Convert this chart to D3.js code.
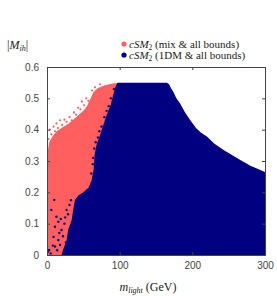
<!DOCTYPE html>
<meta charset="utf-8">
<script src="https://d3js.org/d3.v7.min.js"></script>
<style>
    body { margin: 0; background: #fff; }
    .tick text { font-family: "Liberation Sans", Arial, sans-serif; font-size: 10px; fill: #444; }
    .serif { font-family: "Liberation Serif", "DejaVu Serif", serif; fill: #222; }
</style>
<div id="chart"></div>
<script>
    // tick values
    var xTicks = [0, 100, 200, 300];
    var yTicks = [0, 0.1, 0.2, 0.3, 0.4, 0.5, 0.6];

    // upper edge of the "mix" (red) cloud: [m_light, |M_ih|]
    var redTop = [[0, 0.27], [1, 0.33], [3, 0.36], [8, 0.38], [13, 0.394], [20, 0.405], [30, 0.42],
        [40, 0.44], [50, 0.46], [55, 0.475], [60, 0.5], [64, 0.52], [70, 0.533], [80, 0.542],
        [90, 0.547], [100, 0.55]];

    // left edge of the "1DM" (blue) cloud: [|M_ih|, m_light]
    var blueLeft = [[0, 20], [0.016, 22], [0.048, 27], [0.08, 29], [0.112, 34], [0.144, 36],
        [0.176, 38.5], [0.19, 43], [0.2, 50], [0.215, 57], [0.235, 61], [0.27, 64], [0.3, 65],
        [0.32, 65.5], [0.35, 68], [0.383, 73], [0.415, 77.5], [0.447, 82], [0.479, 87.6],
        [0.51, 91], [0.535, 94], [0.55, 97]];

    // upper edge of the blue cloud: [m_light, |M_ih|]
    var blueTop = [[97, 0.55], [165, 0.55], [168, 0.545], [170, 0.535], [174, 0.52], [178, 0.5],
        [183, 0.484], [190, 0.455], [197, 0.431], [205, 0.405], [212, 0.39], [220, 0.378],
        [230, 0.356], [243, 0.335], [255, 0.318], [266, 0.303], [280, 0.285], [300, 0.265]];

    // loose points outside the dense clouds
    var redStray = [[2, 0.37], [4, 0.40], [6, 0.385], [9, 0.41], [11, 0.395], [13, 0.42], [15, 0.405],
        [18, 0.43], [21, 0.415], [24, 0.432], [27, 0.425], [31, 0.44], [34, 0.43], [37, 0.455],
        [40, 0.448], [43, 0.47], [46, 0.465], [48, 0.49], [51, 0.478], [54, 0.5], [57, 0.492],
        [62, 0.525], [66, 0.535], [73, 0.545]];
    var blueStray = [[1, 0.01], [3, 0.016], [5, 0.005], [6, 0.144], [10, 0.176], [13, 0.122],
        [15.6, 0.106], [11, 0.09], [9, 0.058], [15.6, 0.048], [18, 0.032], [11, 0.027], [20, 0.08],
        [27, 0.144], [29, 0.13], [24, 0.1], [22, 0.06], [17, 0.07], [25, 0.12], [31, 0.16],
        [33, 0.175], [14, 0.015], [8, 0.03], [19, 0.115], [26, 0.04], [61, 0.26], [63, 0.29],
        [63.5, 0.31], [65, 0.34], [67, 0.36], [70, 0.375], [72, 0.395], [75, 0.41], [79, 0.44],
        [82, 0.46], [85, 0.475], [88, 0.5], [92, 0.53]];

    var legendLabels = ["(mix & all bounds)", "(1DM & all bounds)"];
    var red = "#ff5f5f", blue = "#000080";

    var margin = {top: 67, right: 12, bottom: 41, left: 47},
        width = 277 - margin.left - margin.right,
        height = 296 - margin.top - margin.bottom;

    var root = d3.select("#chart").append("svg")
        .attr("width", 277)
        .attr("height", 296);
    var svg = root.append("g")
        .attr("transform", "translate(" + margin.left + "," + margin.top + ")");

    var x = d3.scaleLinear().domain([0, 300]).range([0, width]);
    var y = d3.scaleLinear().domain([0, 0.6]).range([height, 0]);

    svg.append("clipPath").attr("id", "clip")
        .append("rect").attr("width", width).attr("height", height);
    var plot = svg.append("g").attr("clip-path", "url(#clip)");

    // red cloud
    plot.append("path")
        .attr("fill", red)
        .attr("d", d3.area()
            .x(function(d) { return x(d[0]); })
            .y0(y(0))
            .y1(function(d) { return y(d[1]); })(redTop));
    plot.selectAll(".rdot").data(redStray).enter().append("circle")
        .attr("cx", function(d) { return x(d[0]); })
        .attr("cy", function(d) { return y(d[1]); })
        .attr("r", 1.1).attr("fill", red);

    // blue cloud: left edge bottom-up, then top edge, then back along the floor
    var outline = [[blueLeft[0][1], 0]]
        .concat(blueLeft.map(function(d) { return [d[1], d[0]]; }))
        .concat(blueTop)
        .concat([[300, 0]]);
    plot.append("path")
        .attr("fill", blue)
        .attr("d", d3.line()
            .x(function(d) { return x(d[0]); })
            .y(function(d) { return y(d[1]); })(outline) + "Z");
    plot.selectAll(".bdot").data(blueStray).enter().append("circle")
        .attr("cx", function(d) { return x(d[0]); })
        .attr("cy", function(d) { return y(d[1]); })
        .attr("r", 1.2).attr("fill", blue);

    // axes: inward ticks on all four sides
    svg.append("g").attr("transform", "translate(0," + height + ")")
        .call(d3.axisBottom(x).tickValues(xTicks).tickSize(-3).tickPadding(7).tickFormat(d3.format("d")));
    svg.append("g")
        .call(d3.axisLeft(y).tickValues(yTicks).tickSize(-3).tickPadding(8).tickFormat(function(d) { return d === 0 ? "0" : d3.format(".1f")(d); }));
    svg.append("g")
        .call(d3.axisTop(x).tickValues(xTicks).tickSize(-3).tickFormat(""));
    svg.append("g").attr("transform", "translate(" + width + ",0)")
        .call(d3.axisRight(y).tickValues(yTicks).tickSize(-3).tickFormat(""));
    svg.selectAll(".domain, .tick line").attr("stroke", "#444");

    // y label
    var yl = root.append("text").attr("class", "serif").attr("x", 7).attr("y", 49).attr("font-size", 12);
    yl.append("tspan").text("|");
    yl.append("tspan").attr("font-style", "italic").text("M");
    yl.append("tspan").attr("font-style", "italic").attr("font-size", 8).attr("dy", 2).text("ih");
    yl.append("tspan").attr("dy", -2).text("|");

    // x label
    var xl = root.append("text").attr("class", "serif").attr("x", 148).attr("y", 291)
        .attr("text-anchor", "middle").attr("font-size", 12);
    xl.append("tspan").attr("font-style", "italic").text("m");
    xl.append("tspan").attr("font-style", "italic").attr("font-size", 8).attr("dy", 2).text("light");
    xl.append("tspan").attr("dy", -2).text(" (GeV)");

    // legend
    var leg = root.selectAll(".leg").data([red, blue]).enter().append("g")
        .attr("transform", function(d, i) { return "translate(124," + (44 + i * 11) + ")"; });
    leg.append("circle").attr("r", 2.6).attr("fill", function(d) { return d; });
    var lt = leg.append("text").attr("class", "serif").attr("x", 5).attr("y", 3.5).attr("font-size", 11);
    lt.append("tspan").attr("font-style", "italic").text("cSM");
    lt.append("tspan").attr("font-size", 7.5).attr("dy", 2).text("2");
    lt.append("tspan").attr("dy", -2).text(function(d, i) { return " " + legendLabels[i]; });
</script>
